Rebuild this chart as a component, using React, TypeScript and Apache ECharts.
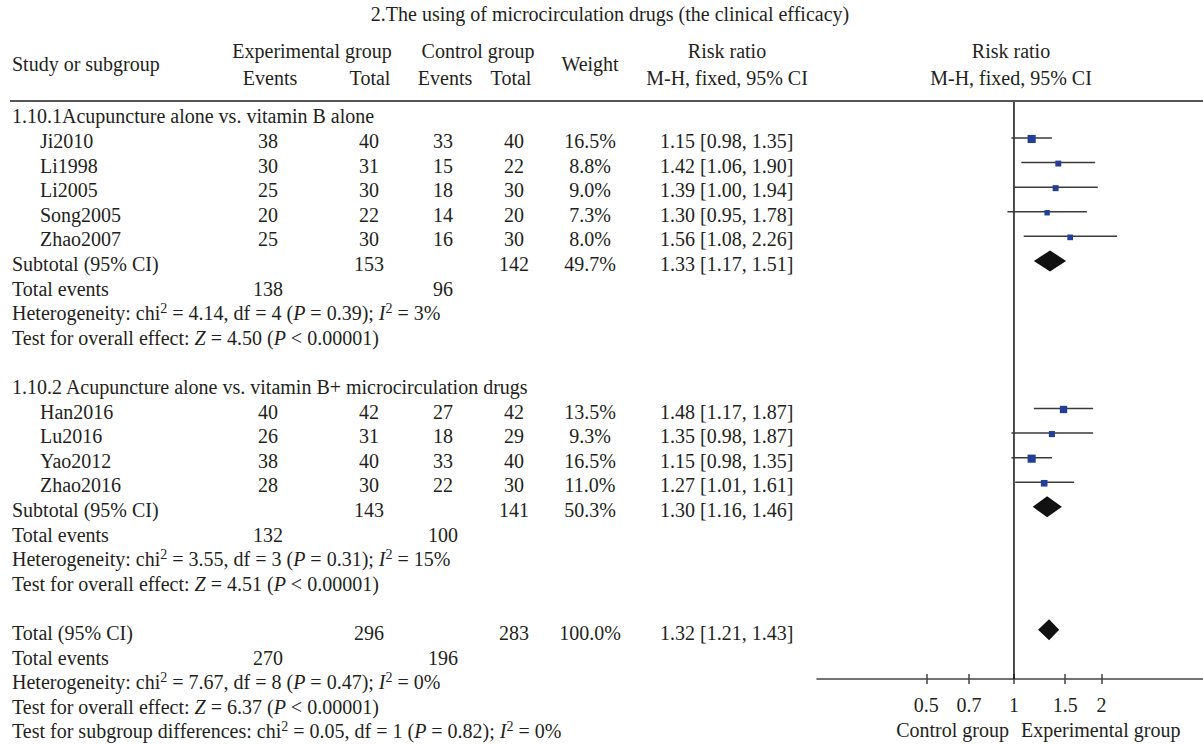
import React, { useEffect, useRef } from 'react';
import * as echarts from 'echarts';

// ---------- data ----------
const TITLE = '2.The using of microcirculation drugs (the clinical efficacy)';

const GROUP_LABELS = [
  '1.10.1Acupuncture alone vs. vitamin B alone',
  '1.10.2 Acupuncture alone vs. vitamin B+ microcirculation drugs',
];

const studies1 = ['Ji2010', 'Li1998', 'Li2005', 'Song2005', 'Zhao2007'];
const expEvents1 = [38, 30, 25, 20, 25];
const expTotal1 = [40, 31, 30, 22, 30];
const ctrlEvents1 = [33, 15, 18, 14, 16];
const ctrlTotal1 = [40, 22, 30, 20, 30];
const weight1 = [16.5, 8.8, 9.0, 7.3, 8.0];
const rr1 = [1.15, 1.42, 1.39, 1.3, 1.56];
const lower1 = [0.98, 1.06, 1.0, 0.95, 1.08];
const upper1 = [1.35, 1.9, 1.94, 1.78, 2.26];

const studies2 = ['Han2016', 'Lu2016', 'Yao2012', 'Zhao2016'];
const expEvents2 = [40, 26, 38, 28];
const expTotal2 = [42, 31, 40, 30];
const ctrlEvents2 = [27, 18, 33, 22];
const ctrlTotal2 = [42, 29, 40, 30];
const weight2 = [13.5, 9.3, 16.5, 11.0];
const rr2 = [1.48, 1.35, 1.15, 1.27];
const lower2 = [1.17, 0.98, 0.98, 1.01];
const upper2 = [1.87, 1.87, 1.35, 1.61];

// pooled: [subgroup 1, subgroup 2, overall]
const pooledExpTotal = [153, 143, 296];
const pooledCtrlTotal = [142, 141, 283];
const pooledWeight = [49.7, 50.3, 100.0];
const pooledRR = [1.33, 1.3, 1.32];
const pooledLower = [1.17, 1.16, 1.21];
const pooledUpper = [1.51, 1.46, 1.43];
const pooledExpEvents = [138, 132, 270];
const pooledCtrlEvents = [96, 100, 196];
const hetChi2 = [4.14, 3.55, 7.67];
const hetDf = [4, 3, 8];
const hetP = [0.39, 0.31, 0.47];
const hetI2 = [3, 15, 0];
const overallZ = [4.5, 4.51, 6.37];
const subgroupDiff = { chi2: 0.05, df: 1, p: 0.82, i2: 0 };

const TICK_VALUES = [0.5, 0.7, 1, 1.5, 2];
const TICK_LABELS = ['0.5', '0.7', '1', '1.5', '2'];
const AXIS_MIN = 0.2105;
const AXIS_MAX = 4.461;

// ---------- layout ----------
const W = 1203;
const H = 744;
const FONT = 'Liberation Serif';
const TXT = '#231f20';
const ROW0 = 138;
const ROW_H = 24.6;
const Y_MIN = -1.463;
const Y_MAX = 22;
const rowY = (i: number) => ROW0 + ROW_H * i;

const COL_LEFT = 12;
const COL_NAME = 40;
const COL_EXP_EV = 268;
const COL_EXP_TOT = 369;
const COL_CTRL_EV = 443;
const COL_CTRL_TOT = 514;
const COL_WEIGHT = 590;
const COL_RR = 660;

const rich = {
  i: { fontStyle: 'italic', fontSize: 20, fontFamily: FONT, fill: TXT },
  sup: { fontSize: 14, fontFamily: FONT, fill: TXT, verticalAlign: 'top', textVerticalAlign: 'top', lineHeight: 12 },
};

function txt(text: string, x: number, y: number, align: string = 'left', withRich = false): any {
  const style: any = {
    text,
    fill: TXT,
    fontSize: 20,
    fontFamily: FONT,
    align,
    textAlign: align,
    verticalAlign: 'middle',
    textVerticalAlign: 'middle',
  };
  if (withRich) {
    style.rich = rich;
    style.lineHeight = 24;
  }
  return { type: 'text', x, y, silent: true, style };
}

const fmtRR = (r: number, l: number, u: number) => `${r.toFixed(2)} [${l.toFixed(2)}, ${u.toFixed(2)}]`;
const hetText = (k: number) =>
  `Heterogeneity: chi{sup|2} = ${hetChi2[k].toFixed(2)}, df = ${hetDf[k]} ({i|P} = ${hetP[k].toFixed(2)}); {i|I}{sup|2} = ${hetI2[k]}%`;
const testText = (k: number) => `Test for overall effect: {i|Z} = ${overallZ[k].toFixed(2)} ({i|P} < 0.00001)`;

export default function App() {
  const ref = useRef<HTMLDivElement>(null);

  useEffect(() => {
    if (!ref.current) return;
    const chart = echarts.init(ref.current, null, { renderer: 'svg' });

    const groups = [
      { names: studies1, ee: expEvents1, et: expTotal1, ce: ctrlEvents1, ct: ctrlTotal1, w: weight1, rr: rr1, lo: lower1, hi: upper1, start: 0 },
      { names: studies2, ee: expEvents2, et: expTotal2, ce: ctrlEvents2, ct: ctrlTotal2, w: weight2, rr: rr2, lo: lower2, hi: upper2, start: 11 },
    ];

    const graphic: any[] = [];
    const off = 3;
    // header
    graphic.push(txt(TITLE, 610, 14, 'center'));
    graphic.push(txt('Study or subgroup', COL_LEFT, 64));
    graphic.push(txt('Experimental group', 312, 51, 'center'));
    graphic.push(txt('Control group', 478, 51, 'center'));
    graphic.push(txt('Events', 270, 78, 'center'));
    graphic.push(txt('Total', 370, 78, 'center'));
    graphic.push(txt('Events', 445, 78, 'center'));
    graphic.push(txt('Total', 511, 78, 'center'));
    graphic.push(txt('Weight', COL_WEIGHT, 64, 'center'));
    graphic.push(txt('Risk ratio', 727, 51, 'center'));
    graphic.push(txt('M-H, fixed, 95% CI', 727, 78, 'center'));
    graphic.push(txt('Risk ratio', 1011, 51, 'center'));
    graphic.push(txt('M-H, fixed, 95% CI', 1011, 78, 'center'));
    graphic.push({
      type: 'line',
      silent: true,
      shape: { x1: 10, y1: 101, x2: W, y2: 101 },
      style: { stroke: '#555', lineWidth: 2 },
    });

    const studyData: any[] = [];
    const diamondData: any[] = [];

    groups.forEach((g, k) => {
      graphic.push(txt(GROUP_LABELS[k], COL_LEFT, rowY(g.start - 1) + off));
      g.names.forEach((n, j) => {
        const r = g.start + j;
        const y = rowY(r) + off;
        graphic.push(txt(n, COL_NAME, y));
        graphic.push(txt(String(g.ee[j]), COL_EXP_EV, y, 'center'));
        graphic.push(txt(String(g.et[j]), COL_EXP_TOT, y, 'center'));
        graphic.push(txt(String(g.ce[j]), COL_CTRL_EV, y, 'center'));
        graphic.push(txt(String(g.ct[j]), COL_CTRL_TOT, y, 'center'));
        graphic.push(txt(g.w[j].toFixed(1) + '%', COL_WEIGHT, y, 'center'));
        graphic.push(txt(fmtRR(g.rr[j], g.lo[j], g.hi[j]), COL_RR, y));
        studyData.push([Math.log(g.rr[j]), r, Math.log(g.lo[j]), Math.log(g.hi[j]), g.w[j]]);
      });
      const sr = g.start + g.names.length;
      const sy = rowY(sr) + off;
      graphic.push(txt('Subtotal (95% CI)', COL_LEFT, sy));
      graphic.push(txt(String(pooledExpTotal[k]), COL_EXP_TOT, sy, 'center'));
      graphic.push(txt(String(pooledCtrlTotal[k]), COL_CTRL_TOT, sy, 'center'));
      graphic.push(txt(pooledWeight[k].toFixed(1) + '%', COL_WEIGHT, sy, 'center'));
      graphic.push(txt(fmtRR(pooledRR[k], pooledLower[k], pooledUpper[k]), COL_RR, sy));
      diamondData.push([Math.log(pooledRR[k]), sr, Math.log(pooledLower[k]), Math.log(pooledUpper[k])]);
      const ey = rowY(sr + 1) + off;
      graphic.push(txt('Total events', COL_LEFT, ey));
      graphic.push(txt(String(pooledExpEvents[k]), COL_EXP_EV, ey, 'center'));
      graphic.push(txt(String(pooledCtrlEvents[k]), COL_CTRL_EV, ey, 'center'));
      graphic.push(txt(hetText(k), COL_LEFT, rowY(sr + 2) + off, 'left', true));
      graphic.push(txt(testText(k), COL_LEFT, rowY(sr + 3) + off, 'left', true));
    });

    // overall
    const tr = 20;
    const ty = rowY(tr) + off;
    graphic.push(txt('Total (95% CI)', COL_LEFT, ty));
    graphic.push(txt(String(pooledExpTotal[2]), COL_EXP_TOT, ty, 'center'));
    graphic.push(txt(String(pooledCtrlTotal[2]), COL_CTRL_TOT, ty, 'center'));
    graphic.push(txt(pooledWeight[2].toFixed(1) + '%', COL_WEIGHT, ty, 'center'));
    graphic.push(txt(fmtRR(pooledRR[2], pooledLower[2], pooledUpper[2]), COL_RR, ty));
    diamondData.push([Math.log(pooledRR[2]), tr, Math.log(pooledLower[2]), Math.log(pooledUpper[2])]);
    const tey = rowY(tr + 1) + off;
    graphic.push(txt('Total events', COL_LEFT, tey));
    graphic.push(txt(String(pooledExpEvents[2]), COL_EXP_EV, tey, 'center'));
    graphic.push(txt(String(pooledCtrlEvents[2]), COL_CTRL_EV, tey, 'center'));
    graphic.push(txt(hetText(2), COL_LEFT, rowY(tr + 2) + off, 'left', true));
    graphic.push(txt(testText(2), COL_LEFT, rowY(tr + 3) + off, 'left', true));
    graphic.push(
      txt(
        `Test for subgroup differences: chi{sup|2} = ${subgroupDiff.chi2.toFixed(2)}, df = ${subgroupDiff.df} ({i|P} = ${subgroupDiff.p.toFixed(2)}); {i|I}{sup|2} = ${subgroupDiff.i2}%`,
        COL_LEFT,
        rowY(tr + 4) + off,
        'left',
        true
      )
    );
    graphic.push(txt('Control group', 1009, 730, 'right'));
    graphic.push(txt('Experimental group', 1021, 730, 'left'));

    const lnTicks = TICK_VALUES.map((v) => Math.log(v));
    const labelFor = (v: number) => {
      const idx = lnTicks.findIndex((t) => Math.abs(t - v) < 1e-6);
      return idx >= 0 ? TICK_LABELS[idx] : '';
    };

    const baseX = {
      type: 'value',
      gridIndex: 0,
      position: 'bottom',
      min: Math.log(AXIS_MIN),
      max: Math.log(AXIS_MAX),
      splitLine: { show: false },
    };

    const option: any = {
      animation: false,
      backgroundColor: '#ffffff',
      grid: { left: 817, right: 0, top: 102, bottom: H - 679, containLabel: false },
      xAxis: [
        {
          ...baseX,
          axisLine: { show: true, onZero: false, lineStyle: { color: '#444', width: 1.5 } },
          axisTick: { show: true, length: 5, customValues: lnTicks, lineStyle: { color: '#444', width: 1.5 } },
          axisLabel: {
            show: true,
            customValues: lnTicks,
            formatter: labelFor,
            fontSize: 20,
            fontFamily: FONT,
            color: TXT,
            margin: 16,
          },
        },
        {
          ...baseX,
          axisLine: { show: false, onZero: false },
          axisTick: { show: true, inside: true, length: 5, customValues: lnTicks, lineStyle: { color: '#444', width: 1.5 } },
          axisLabel: { show: false },
        },
      ],
      yAxis: { type: 'value', min: Y_MIN, max: Y_MAX, inverse: true, show: false },
      graphic,
      series: [
        {
          type: 'line',
          data: [[0, Y_MIN], [0, Y_MAX]],
          symbol: 'none',
          silent: true,
          lineStyle: { color: '#111', width: 1.5 },
          z: 1,
        },
        {
          type: 'custom',
          data: studyData,
          silent: true,
          z: 3,
          renderItem: (_p: any, api: any) => {
            const y = api.value(1);
            const c = api.coord([api.value(0), y]);
            const l = api.coord([api.value(2), y]);
            const h = api.coord([api.value(3), y]);
            const s = 2 * Math.sqrt(api.value(4));
            return {
              type: 'group',
              children: [
                { type: 'line', shape: { x1: l[0], y1: l[1], x2: h[0], y2: h[1] }, style: { stroke: '#3a3a3a', lineWidth: 1.5 } },
                { type: 'rect', shape: { x: c[0] - s / 2, y: c[1] - s / 2 + 1, width: s, height: s }, style: { fill: '#233e99' } },
              ],
            };
          },
        },
        {
          type: 'custom',
          data: diamondData,
          silent: true,
          z: 3,
          renderItem: (_p: any, api: any) => {
            const y = api.value(1);
            const c = api.coord([api.value(0), y]);
            const l = api.coord([api.value(2), y]);
            const h = api.coord([api.value(3), y]);
            return {
              type: 'polygon',
              shape: { points: [[l[0], c[1]], [c[0], c[1] - 10.5], [h[0], c[1]], [c[0], c[1] + 10.5]] },
              style: { fill: '#111' },
            };
          },
        },
      ],
    };

    chart.setOption(option);
    return () => chart.dispose();
  }, []);

  return <div ref={ref} style={{ position: 'fixed', left: 0, top: 0, width: W, height: H }} />;
}
